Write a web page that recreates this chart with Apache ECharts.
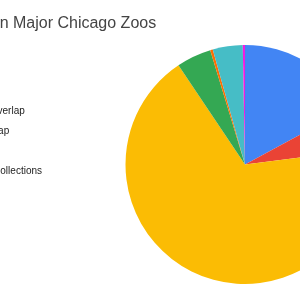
<!DOCTYPE html>
<html><head><meta charset="utf-8">
<script src="https://cdn.jsdelivr.net/npm/echarts@6/dist/echarts.min.js"></script>
<style>html,body{margin:0;padding:0;background:#fff}#c{width:300px;height:300px}</style>
</head><body><div id="c"></div>
<script>
const titleText = "Species Overlap in Major Chicago Zoos";
const titlePrefix = "Species Overlap in ";
const categories = [
  "Brookfield Zoo Only",
  "Lincoln Park Zoo Only",
  "Shedd Aquarium Only",
  "Brookfield–Lincoln Park Overlap",
  "Lincoln Park–Shedd Overlap",
  "Shedd–Brookfield Overlap",
  "Shared Across All Three Collections"
];
const values = [17.1, 5.9, 67.6, 4.7, 0.35, 4.05, 0.3];
const colors = ["#4285F4", "#EA4335", "#FBBC04", "#34A853", "#FF6D01", "#46BDC6", "#F31BE0"];

const FONT = "Liberation Sans, Arial, sans-serif";
const cv = document.createElement('canvas').getContext('2d');
function tw(t, size) { cv.font = size + "px " + FONT; return cv.measureText(t).width; }

const titleLeft = 13 - tw(titlePrefix, 16);
const legendFont = 10;
const lastTextEnd = 42;
const textStart = lastTextEnd - tw(categories[categories.length - 1], legendFont);
const iconW = 10;

const chart = echarts.init(document.getElementById('c'), null, {renderer: 'canvas'});
chart.setOption({
  animation: false,
  backgroundColor: '#fff',
  color: colors,
  title: {
    text: titleText,
    left: titleLeft,
    top: 16,
    padding: 0,
    textStyle: {fontFamily: FONT, fontSize: 16, fontWeight: 'normal', color: '#444'}
  },
  legend: {
    orient: 'vertical',
    left: textStart - iconW - 5,
    top: 46,
    padding: 0,
    itemWidth: iconW,
    itemHeight: 10,
    itemGap: 10,
    icon: 'circle',
    data: categories,
    textStyle: {fontFamily: FONT, fontSize: legendFont, lineHeight: 10, color: '#222'}
  },
  series: [{
    type: 'pie',
    center: [245, 164.5],
    radius: [0, 119.5],
    startAngle: 90,
    clockwise: true,
    label: {show: false},
    labelLine: {show: false},
    emphasis: {disabled: true},
    itemStyle: {borderWidth: 0},
    data: categories.map((n, i) => ({name: n, value: values[i]}))
  }]
});
</script></body></html>
